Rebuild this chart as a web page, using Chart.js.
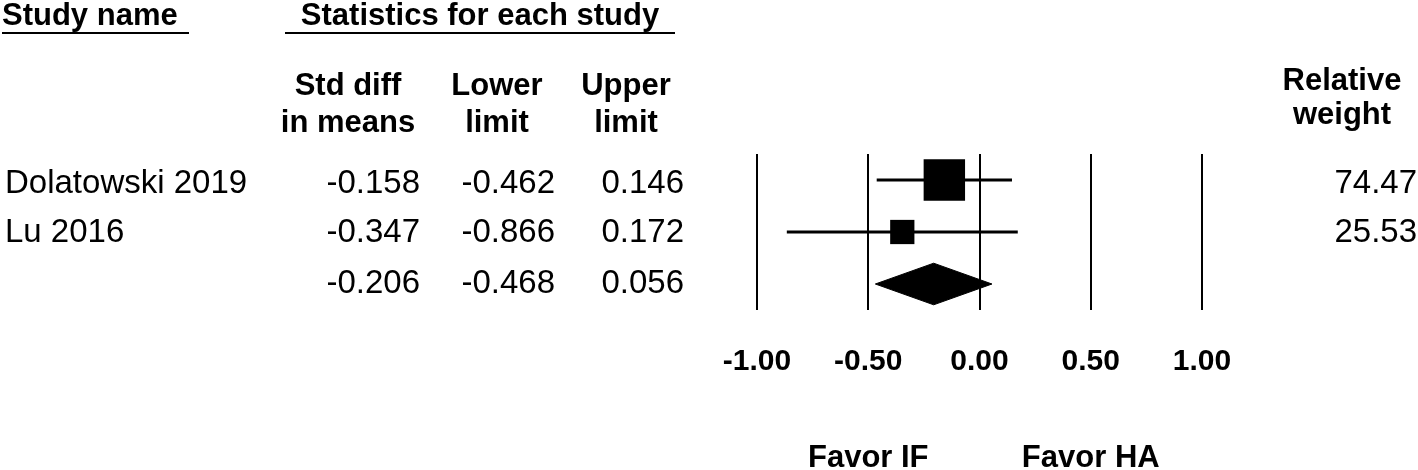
<!DOCTYPE html>
<html>
<head>
<meta charset="utf-8">
<script src="https://cdn.jsdelivr.net/npm/chart.js"></script>
<style>
body { margin: 0; background: #fff; }
canvas { display: block; }
</style>
</head>
<body>
<canvas id="forest" width="1418" height="470"></canvas>
<script>
// datos de cada estudio
var estudios = ['Dolatowski 2019', 'Lu 2016'];
var stdDiff = [-0.158, -0.347];
var lower = [-0.462, -0.866];
var upper = [0.146, 0.172];
var pesos = [74.47, 25.53];

// efecto combinado
var totalDiff = -0.206;
var totalLower = -0.468;
var totalUpper = 0.056;

var ticksX = [-1.00, -0.50, 0.00, 0.50, 1.00];
var favorLabels = ['Favor IF', 'Favor HA'];
var favorPos = [-0.5, 0.5];

var FUENTE = '"Liberation Sans", Arial, sans-serif';
Chart.defaults.font.family = FUENTE;

var datasets = [];

// cuadrados (tamaño segun el peso)
datasets.push({
    data: estudios.map(function(n, i) { return {x: stdDiff[i], y: i + 1}; }),
    pointStyle: 'rect',
    pointRadius: pesos.map(function(w) { return 4.8 * Math.sqrt(w) / Math.SQRT2; }),
    pointHoverRadius: pesos.map(function(w) { return 4.8 * Math.sqrt(w) / Math.SQRT2; }),
    backgroundColor: '#000',
    borderWidth: 0
});

// intervalos de confianza
for (var i = 0; i < estudios.length; i++) {
    datasets.push({
        data: [{x: lower[i], y: i + 1}, {x: upper[i], y: i + 1}],
        showLine: true,
        borderColor: '#000',
        borderWidth: 3,
        pointRadius: 0
    });
}

// rombo del total
var fila = estudios.length + 1;
var alto = 0.4;
datasets.push({
    data: [
        {x: totalLower, y: fila},
        {x: totalDiff, y: fila - alto},
        {x: totalUpper, y: fila},
        {x: totalDiff, y: fila + alto},
        {x: totalLower, y: fila}
    ],
    showLine: true,
    fill: 'shape',
    backgroundColor: '#000',
    borderColor: '#000',
    borderWidth: 1,
    pointRadius: 0,
    tension: 0
});

function fmt(v) { return v.toFixed(3); }

// textos de la tabla y etiquetas del eje
var textos = {
    id: 'textos',
    afterDraw: function(chart) {
        var ctx = chart.ctx;
        var xs = chart.scales.x;
        ctx.save();
        ctx.fillStyle = '#000';
        ctx.textBaseline = 'alphabetic';

        ctx.font = 'bold 31px ' + FUENTE;
        ctx.textAlign = 'left';
        ctx.fillText('Study name', 2, 25);
        ctx.textAlign = 'center';
        ctx.fillText('Statistics for each study', 480, 25);
        ctx.fillRect(2, 32, 187, 2);
        ctx.fillRect(285, 32, 390, 2);

        ctx.fillText('Std diff', 348, 95);
        ctx.fillText('in means', 348, 132);
        ctx.fillText('Lower', 497, 95);
        ctx.fillText('limit', 497, 132);
        ctx.fillText('Upper', 626, 95);
        ctx.fillText('limit', 626, 132);
        ctx.fillText('Relative', 1342, 90);
        ctx.fillText('weight', 1342, 124);

        ctx.font = '33px ' + FUENTE;
        for (var i = 0; i < estudios.length; i++) {
            var by = 193 + i * 49;
            ctx.textAlign = 'left';
            ctx.fillText(estudios[i], 5, by);
            ctx.textAlign = 'right';
            ctx.fillText(fmt(stdDiff[i]), 420, by);
            ctx.fillText(fmt(lower[i]), 555, by);
            ctx.fillText(fmt(upper[i]), 684, by);
            ctx.fillText(pesos[i].toFixed(2), 1417, by);
        }
        ctx.textAlign = 'right';
        ctx.fillText(fmt(totalDiff), 420, 293);
        ctx.fillText(fmt(totalLower), 555, 293);
        ctx.fillText(fmt(totalUpper), 684, 293);

        // etiquetas del eje x
        ctx.font = 'bold 30px ' + FUENTE;
        ctx.textAlign = 'center';
        for (var k = 0; k < ticksX.length; k++) {
            ctx.fillText(ticksX[k].toFixed(2), xs.getPixelForValue(ticksX[k]), 370);
        }

        ctx.font = 'bold 31px ' + FUENTE;
        for (var j = 0; j < favorLabels.length; j++) {
            ctx.fillText(favorLabels[j], xs.getPixelForValue(favorPos[j]), 467);
        }
        ctx.restore();
    }
};

var ctx = document.getElementById('forest').getContext('2d');
var forestChart = new Chart(ctx, {
    type: 'scatter',
    data: { datasets: datasets },
    options: {
        responsive: false,
        animation: false,
        devicePixelRatio: 1,
        layout: { padding: { left: 757, right: 216, top: 154, bottom: 160 } },
        plugins: { legend: { display: false }, tooltip: { enabled: false } },
        scales: {
            x: {
                type: 'linear',
                min: -1,
                max: 1,
                afterBuildTicks: function(s) { s.ticks = ticksX.map(function(v) { return {value: v}; }); },
                afterFit: function(s) { s.height = 0; },
                grid: { color: '#000', lineWidth: 2, drawTicks: false },
                border: { display: false },
                ticks: { display: false }
            },
            y: {
                type: 'linear',
                min: 0.5,
                max: 3.5,
                reverse: true,
                display: false
            }
        }
    },
    plugins: [textos]
});
</script>
</body>
</html>
